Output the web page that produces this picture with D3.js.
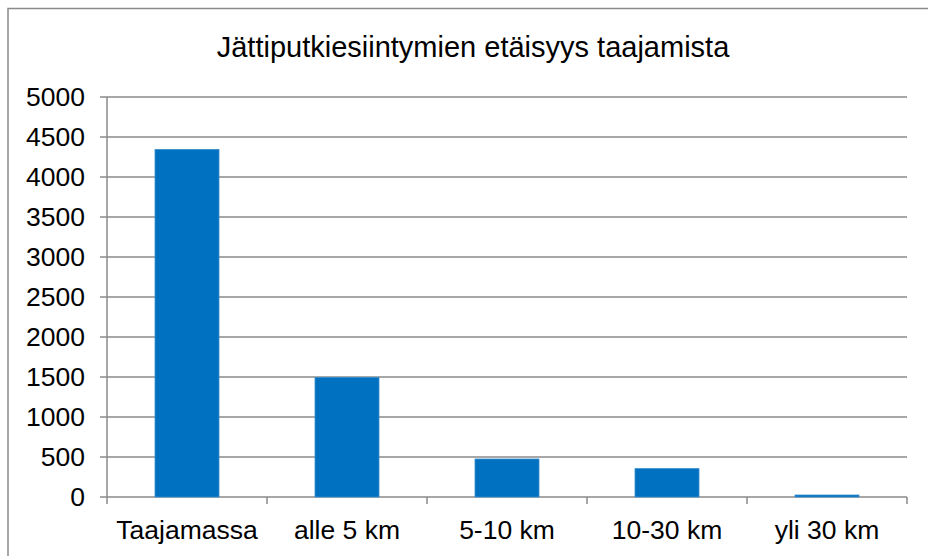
<!DOCTYPE html>
<html><head><meta charset="utf-8">
<script src="https://cdn.jsdelivr.net/npm/d3@7"></script>
<style>body{margin:0;background:#fff}svg{display:block}text{font-family:"Liberation Sans",Arial,sans-serif;fill:#000}</style>
</head><body><svg id="c" width="928" height="556"></svg>
<script>
const title = "Jättiputkiesiintymien etäisyys taajamista";
const categories = ["Taajamassa", "alle 5 km", "5-10 km", "10-30 km", "yli 30 km"];
const values = [4345, 1495, 475, 355, 25];
const yTicks = [0, 500, 1000, 1500, 2000, 2500, 3000, 3500, 4000, 4500, 5000];

const svg = d3.select("#c");
const m = {left: 107, right: 907, top: 97, bottom: 497};
const x = d3.scaleBand().domain(categories).range([m.left, m.right]).paddingInner(0.6).paddingOuter(0.3);
const y = d3.scaleLinear().domain([0, 5000]).range([m.bottom, m.top]);
const grey = "#8a8a8a";

svg.append("rect").attr("x", 8).attr("y", 8.5).attr("width", 940).attr("height", 600)
  .attr("fill", "none").attr("stroke", grey).attr("stroke-width", 1.5);

// gridlines
svg.append("g").selectAll("line").data(yTicks).join("line")
  .attr("x1", m.left - 7).attr("x2", m.right)
  .attr("y1", d => y(d)).attr("y2", d => y(d))
  .attr("stroke", grey).attr("stroke-width", 1.5);

// y axis line
svg.append("line").attr("x1", m.left).attr("x2", m.left).attr("y1", m.top).attr("y2", m.bottom + 7)
  .attr("stroke", grey).attr("stroke-width", 1.5);

// category boundary ticks
const bounds = d3.range(categories.length + 1).map(i => m.left + i * x.step());
svg.append("g").selectAll("line").data(bounds.slice(1)).join("line")
  .attr("x1", d => d).attr("x2", d => d).attr("y1", m.bottom).attr("y2", m.bottom + 7)
  .attr("stroke", grey).attr("stroke-width", 1.5);

// bars
svg.append("g").selectAll("rect").data(values).join("rect")
  .attr("x", (d, i) => x(categories[i]))
  .attr("width", x.bandwidth())
  .attr("y", d => y(d))
  .attr("height", d => y(0) - y(d))
  .attr("fill", "#0070c0")
  .attr("stroke", "#3a8fd0").attr("stroke-width", 0.8);

// y labels
svg.append("g").selectAll("text").data(yTicks).join("text")
  .attr("x", 85).attr("y", d => y(d)).attr("dy", "0.35em")
  .attr("text-anchor", "end").attr("font-size", 26.5).text(d => d);

// x labels
svg.append("g").selectAll("text").data(categories).join("text")
  .attr("x", d => x(d) + x.bandwidth() / 2).attr("y", 539)
  .attr("text-anchor", "middle").attr("font-size", 26.5).text(d => d);

svg.append("text").attr("x", 473).attr("y", 57).attr("text-anchor", "middle")
  .attr("font-size", 29).text(title);
</script></body></html>
